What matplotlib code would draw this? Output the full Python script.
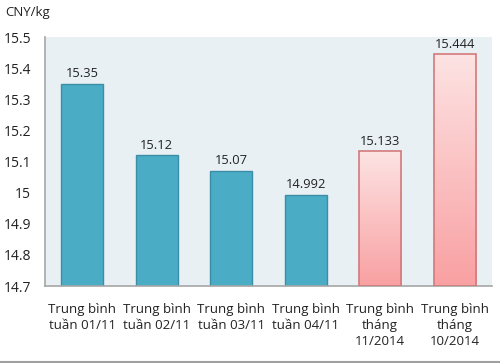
import numpy as np
import matplotlib.pyplot as plt
from matplotlib.colors import LinearSegmentedColormap

plt.rcParams['font.family'] = ['Open Sans', 'DejaVu Sans']

categories = ['Trung bình\ntuần 01/11', 'Trung bình\ntuần 02/11', 'Trung bình\ntuần 03/11',
              'Trung bình\ntuần 04/11', 'Trung bình\ntháng\n11/2014', 'Trung bình\ntháng\n10/2014']
values = [15.35, 15.12, 15.07, 14.992, 15.133, 15.444]
labels = ['15.35', '15.12', '15.07', '14.992', '15.133', '15.444']
is_month = [False, False, False, False, True, True]

ymin, ymax = 14.7, 15.5

fig = plt.figure(figsize=(5, 3.63), dpi=100)
ax = fig.add_axes([0.09, 0.212, 0.894, 0.686])
ax.set_facecolor('#e9f0f4')

x = np.arange(len(values))
w = 0.57
pink = LinearSegmentedColormap.from_list('pink', ['#f9a0a2', '#fde3e3'])
grad = np.linspace(0, 1, 256).reshape(-1, 1)

for xi, v, lab, m in zip(x, values, labels, is_month):
    if m:
        bar = ax.bar(xi, v - ymin, bottom=ymin, width=w, facecolor='none',
                     edgecolor='#d27a7c', linewidth=1.2, zorder=3)[0]
        im = ax.imshow(grad, cmap=pink, aspect='auto', origin='lower',
                       extent=[xi - w / 2, xi + w / 2, ymin, v], zorder=2)
        im.set_clip_path(bar)
    else:
        ax.bar(xi, v - ymin, bottom=ymin, width=w, color='#4bacc6',
               edgecolor='#3b8ea6', linewidth=1.0, zorder=2)
    ax.text(xi, v + 0.012, lab, ha='center', va='bottom', fontsize=9.3, color='#222222')

ax.set_xlim(-0.5, len(values) - 0.5)
ax.set_ylim(ymin, ymax)
ax.set_yticks(np.arange(14.7, 15.51, 0.1))
ax.set_yticklabels(['14.7', '14.8', '14.9', '15', '15.1', '15.2', '15.3', '15.4', '15.5'])
ax.set_xticks(x)
ax.set_xticklabels(categories, linespacing=1.3)
ax.tick_params(axis='both', length=0, labelsize=9.5, colors='#222222')
ax.tick_params(axis='y', labelsize=10)
ax.tick_params(axis='x', pad=12)
ax.tick_params(axis='y', pad=10)
for s in ['top', 'right']:
    ax.spines[s].set_visible(False)
for s in ['left', 'bottom']:
    ax.spines[s].set_color('#a6a6a6')
    ax.spines[s].set_linewidth(1.2)

fig.text(0.01, 0.965, 'CNY/kg', fontsize=9.5, color='#222222', va='center')
fig.add_artist(plt.Line2D([0, 1], [0.003, 0.003], color='#a0a0a0', linewidth=1.5))

fig.savefig('out.png', dpi=100)
